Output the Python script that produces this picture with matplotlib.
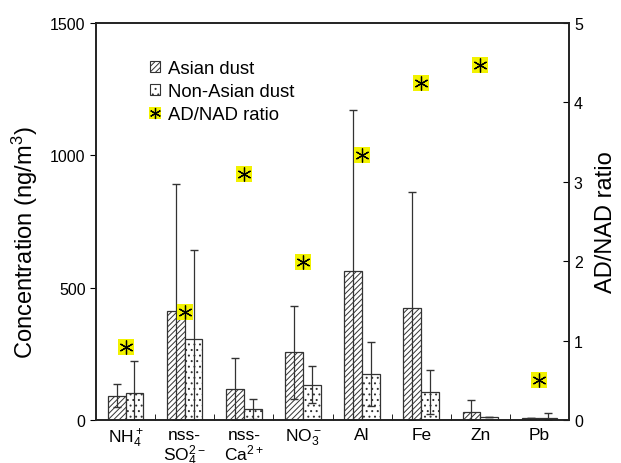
import numpy as np
import matplotlib as mpl
import matplotlib.pyplot as plt
from matplotlib.lines import Line2D
from matplotlib.patches import Patch

species = ['NH$_4^+$', 'nss-\nSO$_4^{2-}$', 'nss-\nCa$^{2+}$', 'NO$_3^-$', 'Al', 'Fe', 'Zn', 'Pb']
asian = [92, 413, 117, 256, 563, 423, 31, 7]
asian_sd = [44, 477, 116, 176, 608, 438, 45, 0]
non_asian = [101, 306, 42, 133, 173, 105, 10, 6]
non_asian_sd = [123, 336, 37, 70, 120, 84, 0, 20]
ratio = [0.92, 1.36, 3.10, 1.99, 3.34, 4.24, 4.47, 0.50]

mpl.rcParams['font.family'] = ['Liberation Sans', 'DejaVu Sans']
mpl.rcParams['mathtext.fontset'] = 'custom'
mpl.rcParams['mathtext.rm'] = 'Liberation Sans'
mpl.rcParams['mathtext.it'] = 'Liberation Sans:italic'
mpl.rcParams['mathtext.bf'] = 'Liberation Sans:bold'
mpl.rcParams['hatch.linewidth'] = 0.7
mpl.rcParams['hatch.color'] = '#333333'

dpi = 100
fig = plt.figure(dpi=dpi, figsize=(621 / dpi, 464 / dpi))
ax = fig.add_axes([0.1546, 0.0927, 0.7617, 0.8556])

x = np.arange(len(species)) + 0.5
w = 0.3
edge = '#333333'
a_err = [np.minimum(asian_sd, asian), asian_sd]
n_err = [np.minimum(non_asian_sd, non_asian), non_asian_sd]
ax.bar(x - w / 2, asian, w, color='white', edgecolor=edge, hatch='//////', linewidth=0.9)
ax.bar(x + w / 2, non_asian, w, color='white', edgecolor=edge, hatch='...', linewidth=0.9)
ax.errorbar(x - w / 2, asian, yerr=a_err, fmt='none', ecolor=edge, elinewidth=0.9, capsize=3)
ax.errorbar(x + w / 2, non_asian, yerr=n_err, fmt='none', ecolor=edge, elinewidth=0.9, capsize=3)

ax.set_xlim(0, len(species))
ax.set_ylim(0, 1500)
ax.set_yticks([0, 500, 1000, 1500])
ax.set_xticks(x)
ax.set_xticklabels(species, fontsize=12.5, linespacing=1.05, va='top')
ax.set_xticks(np.arange(1, len(species)), minor=True)
ax.tick_params(axis='x', which='major', length=0, pad=5)
ax.tick_params(axis='x', which='minor', direction='in', length=4)
ax.tick_params(axis='y', labelsize=11.5, direction='out', length=4)
ax.set_ylabel('Concentration (ng/m$^3$)', fontsize=17, labelpad=3)
ax.yaxis.set_label_coords(-0.118, 0.45)

ax2 = ax.twinx()
ax2.set_ylim(0, 5)
ax2.set_yticks([0, 1, 2, 3, 4, 5])
ax2.tick_params(axis='y', labelsize=11.5, direction='in', length=4)
ax2.set_ylabel('AD/NAD ratio', fontsize=17, labelpad=9)
ax2.plot(x, ratio, linestyle='none', marker='s', markersize=11, color='#f2f200', markeredgewidth=0)
ax2.plot(x, ratio, linestyle='none', marker=(6, 2, 0), markersize=10, color='black', markeredgewidth=0.9)

for a in (ax, ax2):
    for s in a.spines.values():
        s.set_linewidth(1.2)
        s.set_color('#222222')

handles = [
    Patch(facecolor='white', edgecolor=edge, hatch='//////', linewidth=0.8),
    Patch(facecolor='white', edgecolor=edge, hatch='...', linewidth=0.8),
    (Line2D([], [], linestyle='none', marker='s', markersize=8, color='#f2f200', markeredgewidth=0),
     Line2D([], [], linestyle='none', marker=(6, 2, 0), markersize=8, color='black', markeredgewidth=0.9)),
]
ax.legend(handles, ['Asian dust', 'Non-Asian dust', 'AD/NAD ratio'], loc='upper left',
          bbox_to_anchor=(0.098, 0.925), frameon=False, fontsize=13.3, handlelength=0.55,
          handleheight=0.55, handletextpad=0.45, labelspacing=0.32, borderaxespad=0)

fig.savefig('out.png', dpi=dpi)
